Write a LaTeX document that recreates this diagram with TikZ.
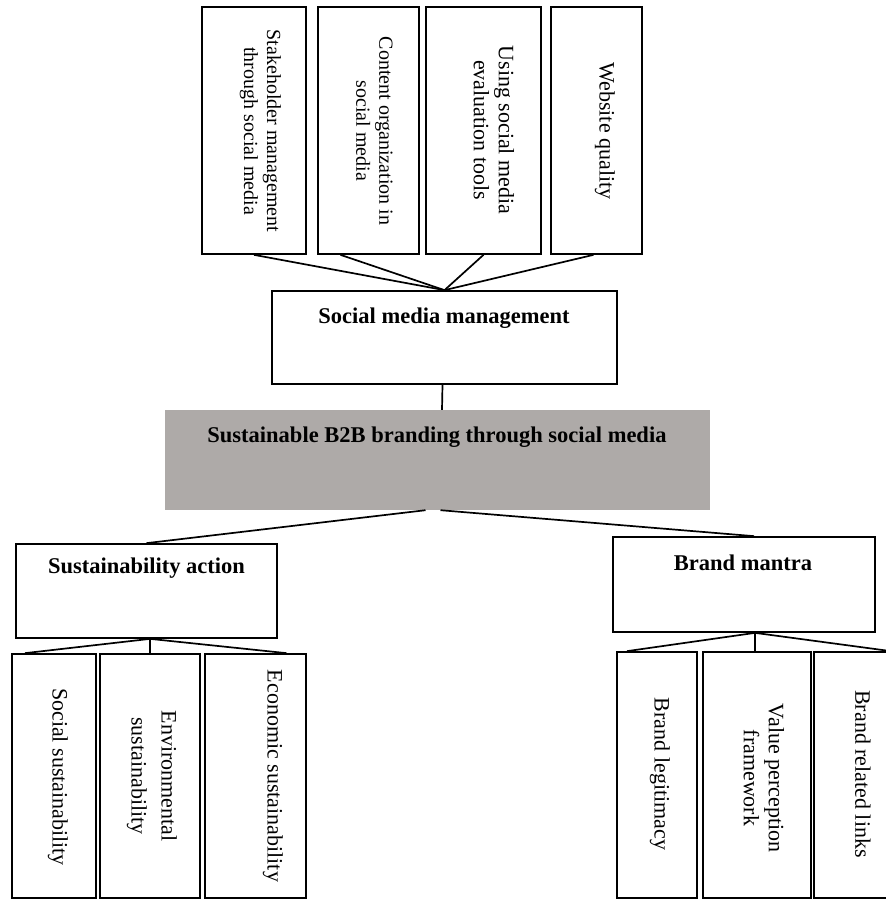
\documentclass[tikz,border=0pt]{standalone}
\usepackage{fontspec}
\setmainfont{Liberation Serif}
\usetikzlibrary{positioning}
\definecolor{coregray}{RGB}{174,170,168}

\begin{document}
\begin{tikzpicture}[
        x=1pt, y=-1pt,
        box/.style={rectangle, draw, line width=1.7pt, inner sep=0pt},
        vtext/.style={rotate=-90, align=center, font=\fontsize{22}{25}\selectfont},
        stext/.style={rotate=-90, align=center, font=\fontsize{20}{23}\selectfont},
        head/.style={font=\fontsize{22.5}{25}\selectfont\bfseries},
        link/.style={line width=1.7pt}
    ]
        \useasboundingbox (0,0) rectangle (886,900);

        % Drivers of social media management
        \node[box, minimum width=104pt, minimum height=247pt] (stake) at (254,130.5) {};
        \node[box, minimum width=101pt, minimum height=247pt] (content) at (368.5,130.5) {};
        \node[box, minimum width=115pt, minimum height=247pt] (evaltools) at (483.5,130.5) {};
        \node[box, minimum width=91pt, minimum height=247pt] (website) at (596.5,130.5) {};
        \node[stext] (stakeT) at (260.5,131) {Stakeholder management\\through social media};
        \node[stext] (contentT) at (374.5,131) {Content organization in\\social media};
        \node[vtext] (evaltoolsT) at (494,130) {Using social media\\evaluation tools};
        \node[vtext] (websiteT) at (605,131) {Website quality};

        % Social media management
        \node[box, minimum width=345pt, minimum height=93pt] (smm) at (444.5,337.5) {};
        \node[head] (smmT) at (444,318) {Social media management};

        % Core
        \node[rectangle, fill=coregray, minimum width=545pt, minimum height=100pt] (core) at (437.5,460) {};
        \node[head] (coreT) at (437,437) {Sustainable B2B branding through social media};

        % Sustainability action
        \node[box, minimum width=261pt, minimum height=94pt] (sa) at (146.5,591) {};
        \node[head] (saT) at (146.5,568) {Sustainability action};
        \node[box, minimum width=84pt, minimum height=244pt] (social) at (54,776) {};
        \node[box, minimum width=100pt, minimum height=244pt] (environ) at (150,776) {};
        \node[box, minimum width=101pt, minimum height=244pt] (econ) at (255.5,776) {};
        \node[vtext] (socialT) at (58,777) {Social sustainability};
        \node[vtext] (environT) at (152,776) {Environmental\\[5pt]sustainability};
        \node[vtext] (econT) at (273,776) {Economic sustainability};

        % Brand mantra
        \node[box, minimum width=262pt, minimum height=95pt] (bm) at (744,584.5) {};
        \node[head] (bmT) at (743,563) {Brand mantra};
        \node[box, minimum width=80pt, minimum height=246pt] (legit) at (657,775) {};
        \node[box, minimum width=108pt, minimum height=246pt] (value) at (757,775) {};
        \node[box, minimum width=84pt, minimum height=246pt] (links) at (856,775) {};
        \node[vtext] (legitT) at (660,774) {Brand legitimacy};
        \node[vtext] (valueT) at (764,778) {Value perception\\framework};
        \node[vtext] (linksT) at (863,774) {Brand related links};

        % Connectors
        \draw[link] (stake.south) -- (smm.north);
        \draw[link] ([xshift=-28pt]content.south) -- (smm.north);
        \draw[link] (evaltools.south) -- (smm.north);
        \draw[link] ([xshift=-3pt]website.south) -- (smm.north);
        \draw[link] ([xshift=-2pt]smm.south) -- ([xshift=4.5pt]core.north);
        \draw[link] ([xshift=-12pt]core.south) -- (sa.north);
        \draw[link] ([xshift=3pt]core.south) -- ([xshift=10pt]bm.north);
        \draw[link] ([xshift=3.5pt]sa.south) -- ([xshift=-29pt]social.north);
        \draw[link] ([xshift=3.5pt]sa.south) -- (environ.north);
        \draw[link] ([xshift=3.5pt]sa.south) -- ([xshift=31pt]econ.north);
        \draw[link] ([xshift=11pt]bm.south) -- ([xshift=-30pt]legit.north);
        \draw[link] ([xshift=11pt]bm.south) -- ([xshift=-2pt]value.north);
        \draw[link] ([xshift=11pt]bm.south) -- ([xshift=35pt]links.north);
    \end{tikzpicture}
\end{document}
